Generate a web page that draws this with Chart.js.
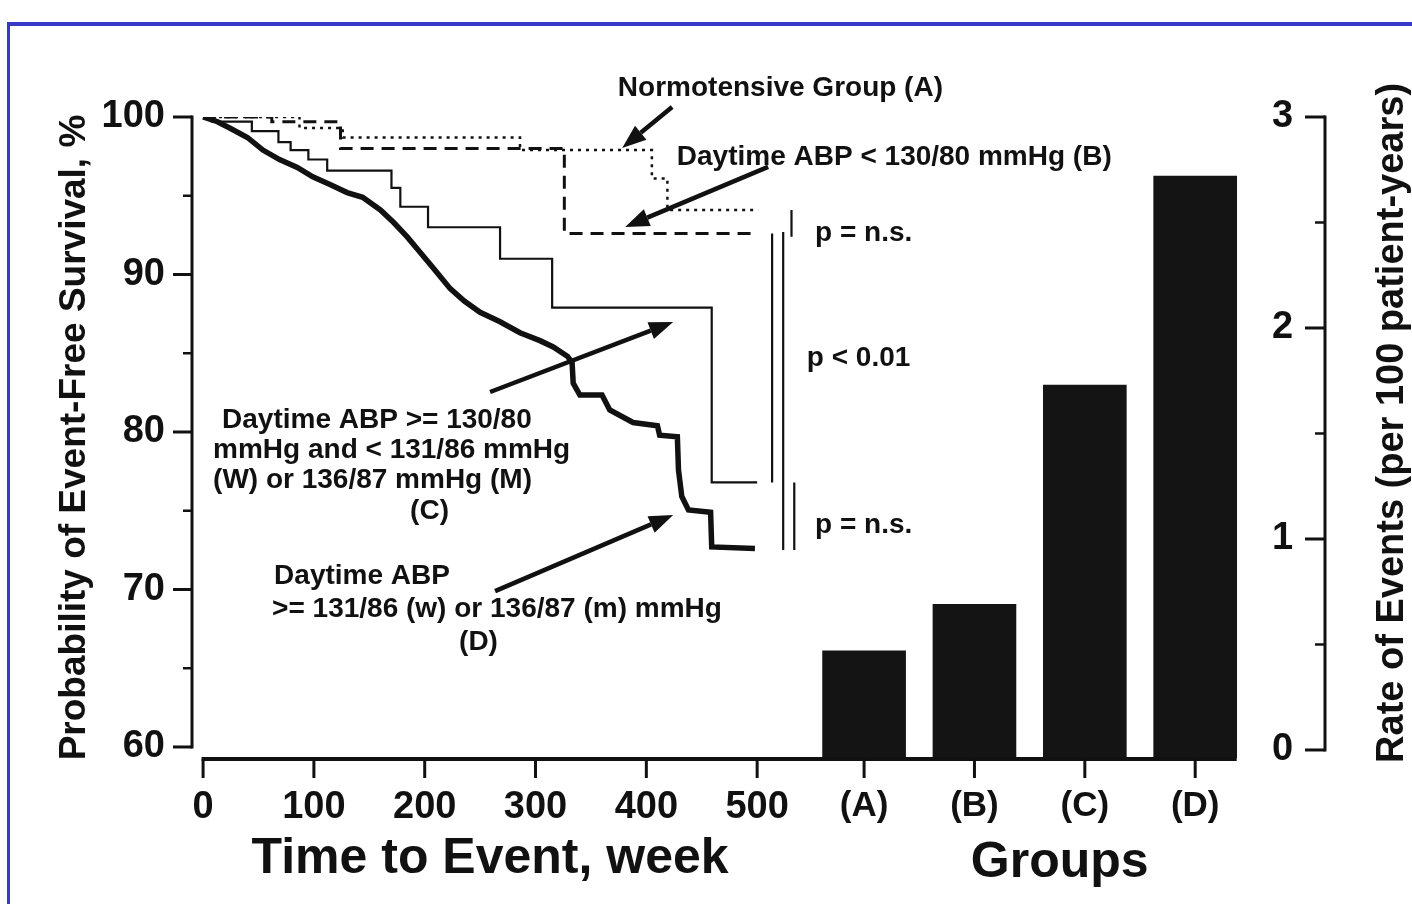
<!DOCTYPE html>
<html>
<head>
<meta charset="utf-8">
<title>Event-free survival and event rate by daytime ABP group</title>
<script src="https://cdn.jsdelivr.net/npm/chart.js@4.4.0/dist/chart.umd.min.js"></script>
<style>
  html, body { margin: 0; padding: 0; background: #fff; }
  #frame { position: absolute; left: 7px; top: 22px; width: 1405px; height: 882px;
           border-top: 4px solid #3838c8; border-left: 3px solid #3838c8; box-sizing: border-box; }
  #wrap { position: absolute; left: 0; top: 0; width: 1412px; height: 904px; }
</style>
</head>
<body>
<div id="frame"></div>
<div id="wrap"><canvas id="chart" width="1412" height="904"></canvas></div>
<script>
// Kaplan-Meier curves: week of each step, survival (%) after it
var weeksA = [0, 87, 126, 286, 405, 419, 501];
var survA  = [100, 99.3, 98.7, 97.9, 96.1, 94.1, 94.1];

var weeksB = [0, 62, 124, 326, 500];
var survB  = [100, 99.7, 98.0, 92.6, 92.6];

var weeksC = [0, 8, 44, 68, 79, 95, 112, 170, 178, 203, 268, 315, 459, 500];
var survC  = [100, 99.7, 99.1, 98.4, 97.9, 97.3, 96.6, 95.5, 94.3, 93.0, 91.0, 87.9, 76.8, 76.8];

var weeksD = [0, 13, 24, 40, 54, 69, 85, 99, 115, 130, 144, 160, 172, 184, 196, 209, 223, 236, 250,
              268, 286, 304, 316, 329, 333, 334, 340, 360, 367, 388, 410, 412, 428, 429, 432, 438,
              458, 459, 498];
var survD  = [100, 99.7, 99.3, 98.7, 97.9, 97.3, 96.8, 96.2, 95.7, 95.2, 94.9, 94.1, 93.3, 92.4, 91.4,
              90.3, 89.1, 88.3, 87.6, 87.0, 86.3, 85.8, 85.4, 84.8, 84.4, 83.1, 82.35, 82.35, 81.4,
              80.6, 80.4, 79.8, 79.7, 77.6, 75.9, 75.05, 74.9, 72.7, 72.6];

// event rate per 100 patient-years
var groups = ['(A)', '(B)', '(C)', '(D)'];
var rates  = [0.47, 0.69, 1.73, 2.72];

var weekTicks = [0, 100, 200, 300, 400, 500];
var survTicks = [60, 70, 80, 90, 100];
var rateTicks = [0, 1, 2, 3];

// p-value brackets: week where the line stands, top and bottom survival
var bracketWeek   = [531, 513.5, 523.5, 533.5];
var bracketTop    = [94.1, 92.6, 92.7, 76.8];
var bracketBottom = [92.4, 76.8, 72.5, 72.5];

// layout
var X_MIN = -10, X_MAX = 961;
var SURV_MIN = 59.3, RATE_MIN = -0.038;
var GROUP_X0 = 596.5, GROUP_DX = 99.6;   // bars sit on the same horizontal scale
var BAR_W = 83;
var FONT = "'Liberation Sans', Arial, Helvetica, sans-serif";
var INK = '#111';

var notes = [
  {t: 'Normotensive Group (A)', x: 521, y: 101.84, align: 'center'},
  {t: 'Daytime ABP < 130/80 mmHg (B)', x: 427.5, y: 97.46},
  {t: 'p = n.s.', x: 552.3, y: 92.6},
  {t: 'p < 0.01', x: 544.8, y: 84.7},
  {t: 'p = n.s.', x: 552.3, y: 74.1},
  {t: 'Daytime ABP >= 130/80', x: 17.1, y: 80.76},
  {t: 'mmHg and < 131/86 mmHg', x: 9.0, y: 78.86},
  {t: '(W) or 136/87 mmHg (M)', x: 9.0, y: 76.95},
  {t: '(C)', x: 186.8, y: 74.98},
  {t: 'Daytime ABP', x: 64.1, y: 70.86},
  {t: '>= 131/86 (w) or 136/87 (m) mmHg', x: 62.3, y: 68.76},
  {t: '(D)', x: 231, y: 66.67}
];

var arrows = [
  {x1: 423.3, y1: 100.63, x2: 378.2, y2: 98.03},
  {x1: 509.9, y1: 96.83, x2: 380.9, y2: 93.02},
  {x1: 259.0, y1: 82.54, x2: 424.2, y2: 86.98},
  {x1: 263.5, y1: 69.9, x2: 424.2, y2: 74.73}
];

function pts(xs, ys) {
  return xs.map(function (x, i) { return {x: x, y: ys[i]}; });
}

function groupX(i) { return GROUP_X0 + i * GROUP_DX; }

function line(c, x1, y1, x2, y2, w) {
  c.lineWidth = w;
  c.beginPath();
  c.moveTo(x1, y1);
  c.lineTo(x2, y2);
  c.stroke();
}

function arrow(c, x1, y1, x2, y2) {
  var a = Math.atan2(y2 - y1, x2 - x1);
  var head = 24, half = 9;
  var bx = x2 - head * Math.cos(a), by = y2 - head * Math.sin(a);
  line(c, x1, y1, bx, by, 4.5);
  c.beginPath();
  c.moveTo(x2, y2);
  c.lineTo(bx + half * Math.sin(a), by - half * Math.cos(a));
  c.lineTo(bx - half * Math.sin(a), by + half * Math.cos(a));
  c.closePath();
  c.fill();
}

var decor = {
  id: 'decor',
  afterDraw: function (chart) {
    var c = chart.ctx;
    var x = chart.scales.x, y = chart.scales.y, yr = chart.scales.yr;
    var area = chart.chartArea;
    c.save();
    c.strokeStyle = INK;
    c.fillStyle = INK;

    // left axis
    var lx = area.left;
    line(c, lx, y.getPixelForValue(100) - 1.5, lx, y.getPixelForValue(60) + 1.5, 3);
    survTicks.forEach(function (v) {
      var p = y.getPixelForValue(v);
      line(c, lx - 19, p, lx, p, 3);
      if (v > 60) {
        var m = y.getPixelForValue(v - 5);
        line(c, lx - 9, m, lx, m, 2.5);
      }
    });

    // right axis
    var rx = yr.left + 57;
    line(c, rx, yr.getPixelForValue(3) - 1.5, rx, yr.getPixelForValue(0) + 1.5, 3);
    rateTicks.forEach(function (v) {
      var p = yr.getPixelForValue(v);
      line(c, rx - 20, p, rx, p, 3);
      if (v < 3) {
        var m = yr.getPixelForValue(v + 0.5);
        line(c, rx - 10, m, rx, m, 2.5);
      }
    });

    // bottom axis
    var by = area.bottom + 1;
    var xEnd = x.getPixelForValue(groupX(groups.length - 1)) + BAR_W / 2;
    line(c, x.getPixelForValue(0) - 1.5, by, xEnd, by, 4);
    x.ticks.forEach(function (t) {
      var p = x.getPixelForValue(t.value);
      line(c, p, by, p, by + 19, 3);
    });

    // annotation text
    c.font = 'bold 28px ' + FONT;
    c.textBaseline = 'middle';
    notes.forEach(function (n) {
      c.textAlign = n.align || 'left';
      c.fillText(n.t, x.getPixelForValue(n.x), y.getPixelForValue(n.y));
    });

    arrows.forEach(function (a) {
      arrow(c, x.getPixelForValue(a.x1), y.getPixelForValue(a.y1),
               x.getPixelForValue(a.x2), y.getPixelForValue(a.y2));
    });

    // axis titles the library can't place this way
    c.font = 'bold 50px ' + FONT;
    c.textAlign = 'center';
    c.fillText('Time to Event, week', x.getPixelForValue(259), area.bottom + 101);
    c.fillText('Groups', x.getPixelForValue(773), area.bottom + 105);

    c.font = 'bold 38px ' + FONT;
    c.translate(yr.left + 125, yr.getPixelForValue(1.55));
    c.rotate(-Math.PI / 2);
    c.fillText('Rate of Events (per 100 patient-years)', 0, 0);
    c.restore();
  }
};

var datasets = [
  {
    type: 'bar', label: 'Rate of events', yAxisID: 'yr',
    data: groups.map(function (g, i) { return {x: groupX(i), y: rates[i]}; }),
    backgroundColor: '#141414', borderWidth: 0, barThickness: BAR_W, base: RATE_MIN
  },
  {label: 'Normotensive (A)', data: pts(weeksA, survA), stepped: true,
   borderColor: INK, borderWidth: 2.5, borderDash: [3, 5]},
  {label: 'Daytime ABP < 130/80 (B)', data: pts(weeksB, survB), stepped: true,
   borderColor: INK, borderWidth: 3, borderDash: [13, 8]},
  {label: 'Group C', data: pts(weeksC, survC), stepped: true,
   borderColor: INK, borderWidth: 2.2},
  {label: 'Group D', data: pts(weeksD, survD),
   borderColor: INK, borderWidth: 5.5, borderJoinStyle: 'miter'}
];

for (var i = 0; i < bracketWeek.length; i++) {
  datasets.push({
    label: 'bracket ' + i,
    data: [{x: bracketWeek[i], y: bracketTop[i]}, {x: bracketWeek[i], y: bracketBottom[i]}],
    borderColor: INK, borderWidth: 2.2
  });
}

datasets.forEach(function (d) {
  if (d.type !== 'bar') {
    d.yAxisID = 'y';
    d.pointRadius = 0;
    d.fill = false;
    d.tension = 0;
  }
});

Chart.defaults.color = INK;

var ctx = document.getElementById('chart').getContext('2d');
var chart = new Chart(ctx, {
  type: 'line',
  data: {datasets: datasets},
  options: {
    responsive: false,
    animation: false,
    layout: {padding: {top: 117, left: 0, right: 0, bottom: 0}},
    plugins: {legend: {display: false}, tooltip: {enabled: false}},
    scales: {
      x: {
        type: 'linear', min: X_MIN, max: X_MAX, offset: false,
        grid: {display: false, drawTicks: false}, border: {display: false},
        afterBuildTicks: function (s) {
          s.ticks = weekTicks.concat(groups.map(function (g, i) { return groupX(i); }))
            .map(function (v) { return {value: v}; });
        },
        afterFit: function (s) { s.height = 146; },
        ticks: {
          autoSkip: false, maxRotation: 0, padding: 27, color: INK,
          font: function (c) {
            var big = !c.tick || c.tick.value <= 500;
            return {family: FONT, size: big ? 38 : 35, weight: 'bold'};
          },
          callback: function (v) {
            if (v <= 500) return String(v);
            return groups[Math.round((v - GROUP_X0) / GROUP_DX)];
          }
        }
      },
      y: {
        position: 'left', min: SURV_MIN, max: 100,
        grid: {display: false, drawTicks: false}, border: {display: false},
        afterBuildTicks: function (s) {
          s.ticks = survTicks.map(function (v) { return {value: v}; });
        },
        afterFit: function (s) { s.width = 192; },
        ticks: {padding: 27, color: INK, font: {family: FONT, size: 38, weight: 'bold'}},
        title: {
          display: true, text: 'Probability of Event-Free Survival, %', color: INK,
          font: {family: FONT, size: 37, weight: 'bold'}, padding: {top: 53, bottom: 0}
        }
      },
      yr: {
        position: 'right', min: RATE_MIN, max: 3,
        grid: {display: false, drawTicks: false}, border: {display: false},
        afterBuildTicks: function (s) {
          s.ticks = rateTicks.map(function (v) { return {value: v}; });
        },
        afterFit: function (s) { s.width = 144; },
        ticks: {padding: 4, color: INK, font: {family: FONT, size: 38, weight: 'bold'}}
      }
    }
  },
  plugins: [decor]
});
</script>
</body>
</html>
